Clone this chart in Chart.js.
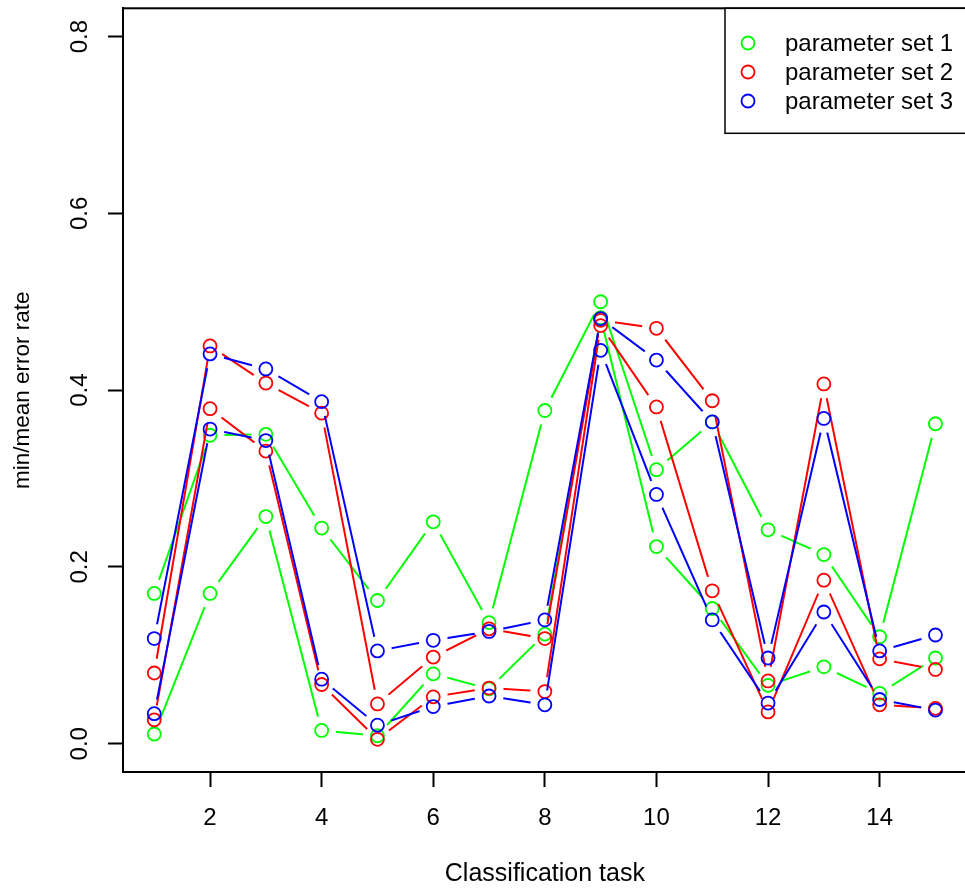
<!DOCTYPE html>
<html lang="en">
<head>
    <meta charset="UTF-8">
    <title>min/mean error rate</title>
    <script src="https://cdn.jsdelivr.net/npm/chart.js"></script>
    <style>
        html, body { margin: 0; padding: 0; overflow: hidden; background: #fff; }
        canvas { display: block; }
    </style>
</head>
<body>
    <canvas id="myChart" width="975" height="890"></canvas>

    <script>
        // values
        const tasks = [1, 2, 3, 4, 5, 6, 7, 8, 9, 10, 11, 12, 13, 14, 15];
        const setNames = ['parameter set 1', 'parameter set 2', 'parameter set 3'];
        const setColors = ['#00ff00', '#ff0000', '#0000ff'];

        const meanSet1 = [0.170, 0.349, 0.350, 0.244, 0.162, 0.251, 0.137, 0.377, 0.500, 0.310, 0.364, 0.242, 0.214, 0.121, 0.362];
        const minSet1  = [0.011, 0.170, 0.257, 0.015, 0.009, 0.079, 0.062, 0.124, 0.482, 0.223, 0.153, 0.066, 0.087, 0.057, 0.097];
        const meanSet2 = [0.080, 0.450, 0.408, 0.374, 0.045, 0.098, 0.130, 0.119, 0.479, 0.470, 0.388, 0.071, 0.407, 0.096, 0.084];
        const minSet2  = [0.027, 0.379, 0.331, 0.067, 0.005, 0.053, 0.063, 0.059, 0.473, 0.381, 0.173, 0.036, 0.185, 0.044, 0.040];
        const meanSet3 = [0.119, 0.441, 0.424, 0.387, 0.105, 0.117, 0.127, 0.140, 0.481, 0.434, 0.364, 0.097, 0.368, 0.105, 0.123];
        const minSet3  = [0.034, 0.356, 0.343, 0.073, 0.021, 0.042, 0.054, 0.044, 0.445, 0.282, 0.140, 0.046, 0.149, 0.050, 0.038];

        const xTicks = [2, 4, 6, 8, 10, 12, 14];
        const yTicks = [0, 0.2, 0.4, 0.6, 0.8];

        Chart.defaults.font.family = '"Liberation Sans", Arial, Helvetica, sans-serif';
        Chart.defaults.font.size = 24;
        Chart.defaults.color = '#000';

        function series(label, values, color, order) {
            return {
                label: label,
                data: tasks.map((t, i) => ({ x: t, y: values[i] })),
                borderColor: color,
                borderWidth: 2,
                pointRadius: 6.5,
                pointBorderWidth: 1.8,
                pointBorderColor: color,
                pointBackgroundColor: 'rgba(0,0,0,0)',
                pointHoverRadius: 6.5,
                tension: 0,
                order: order
            };
        }

        // R type="b": leave a gap in the line around each point
        const gapPlugin = {
            id: 'gaps',
            beforeDatasetDraw(chart, args) {
                const ctx = chart.ctx;
                ctx.save();
                ctx.beginPath();
                ctx.rect(0, 0, chart.width, chart.height);
                args.meta.data.forEach(p => {
                    ctx.moveTo(p.x + 14.5, p.y);
                    ctx.arc(p.x, p.y, 14.5, 0, Math.PI * 2);
                });
                ctx.clip('evenodd');
            },
            afterDatasetDraw(chart, args) {
                chart.ctx.restore();
                args.meta.data.forEach(p => p.draw(chart.ctx, chart.chartArea));
            }
        };

        // plot box and legend in the R style
        const boxPlugin = {
            id: 'box',
            afterDraw(chart) {
                const ctx = chart.ctx;
                const a = chart.chartArea;
                ctx.save();
                ctx.strokeStyle = '#000';
                ctx.lineWidth = 2;
                ctx.strokeRect(a.left, a.top, a.right - a.left, a.bottom - a.top);

                const lx = 725, ly = a.top, lw = a.right - lx, lh = 125;
                ctx.fillStyle = '#fff';
                ctx.fillRect(lx, ly, lw, lh);
                ctx.lineWidth = 1.5;
                ctx.strokeRect(lx, ly, lw, lh);
                ctx.font = '24px "Liberation Sans", Arial, sans-serif';
                ctx.textBaseline = 'middle';
                ctx.textAlign = 'left';
                setNames.forEach((name, i) => {
                    const y = 43 + i * 29;
                    ctx.strokeStyle = setColors[i];
                    ctx.lineWidth = 1.8;
                    ctx.beginPath();
                    ctx.arc(748, y, 6.5, 0, Math.PI * 2);
                    ctx.stroke();
                    ctx.fillStyle = '#000';
                    ctx.fillText(name, 785, y + 1);
                });
                ctx.restore();
            }
        };

        const ctx = document.getElementById('myChart').getContext('2d');
        new Chart(ctx, {
            type: 'line',
            data: {
                datasets: [
                    series(setNames[0] + ' mean', meanSet1, setColors[0], 2),
                    series(setNames[0] + ' min', minSet1, setColors[0], 2),
                    series(setNames[1] + ' mean', meanSet2, setColors[1], 1),
                    series(setNames[1] + ' min', minSet2, setColors[1], 1),
                    series(setNames[2] + ' mean', meanSet3, setColors[2], 0),
                    series(setNames[2] + ' min', minSet3, setColors[2], 0)
                ]
            },
            options: {
                responsive: false,
                animation: false,
                layout: { padding: { top: 8, left: 0, right: 0, bottom: 0 } },
                plugins: {
                    legend: { display: false },
                    tooltip: { enabled: false }
                },
                scales: {
                    x: {
                        type: 'linear',
                        min: 0.44,
                        max: 15.56,
                        afterBuildTicks: s => { s.ticks = xTicks.map(v => ({ value: v })); },
                        afterFit: s => { s.height = 118; s.paddingLeft = 0; s.paddingRight = 0; },
                        ticks: { padding: 17, maxRotation: 0, callback: v => String(v) },
                        grid: { drawOnChartArea: false, drawTicks: true, tickLength: 15, tickWidth: 2, tickColor: '#000' },
                        border: { display: true, color: '#000', width: 2 },
                        title: { display: true, text: 'Classification task', font: { size: 25 }, padding: { top: 0, bottom: 1 } }
                    },
                    y: {
                        min: -0.032,
                        max: 0.832,
                        afterBuildTicks: s => { s.ticks = yTicks.map(v => ({ value: v })); },
                        afterFit: s => { s.width = 123; s.paddingTop = 0; s.paddingBottom = 0; },
                        ticks: { padding: 11, minRotation: 90, maxRotation: 90, crossAlign: 'center', callback: v => v.toFixed(1) },
                        grid: { drawOnChartArea: false, drawTicks: true, tickLength: 15, tickWidth: 2, tickColor: '#000' },
                        border: { display: true, color: '#000', width: 2 },
                        title: { display: true, text: 'min/mean error rate', font: { size: 22.5 }, padding: { top: 9, bottom: 0 } }
                    }
                }
            },
            plugins: [gapPlugin, boxPlugin]
        });
    </script>
</body>
</html>
